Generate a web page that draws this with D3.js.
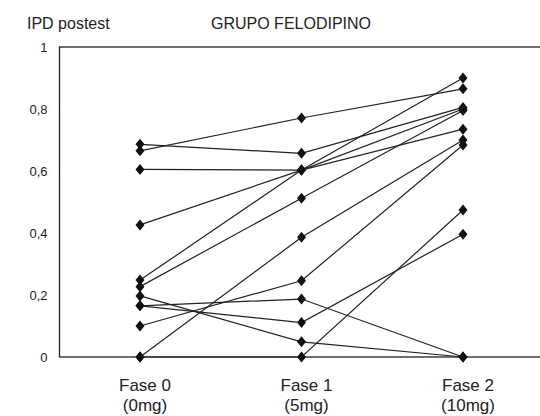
<!DOCTYPE html>
<html>
<head>
<meta charset="utf-8">
<script src="https://cdn.jsdelivr.net/npm/d3@7"></script>
<style>
  html, body { margin: 0; padding: 0; background: #fff; }
  svg { display: block; font-family: Arial, "Liberation Sans", sans-serif; }
</style>
</head>
<body>
<svg id="chart" width="540" height="416"></svg>
<script>
// Phases of the trial and the dose given in each
const phases = ["Fase 0", "Fase 1", "Fase 2"];
const doses = ["(0mg)", "(5mg)", "(10mg)"];

// IPD postest per subject, one array per phase (same subject order)
const fase0 = [0.686, 0.665, 0.605, 0.426, 0.248, 0.227, 0.197, 0.165, 0.165, 0.10, 0, 0];
const fase1 = [0.657, 0.771, 0.603, 0.603, 0.603, 0.512, 0.049, 0.187, 0.111, 0.246, 0.386, 0];
const fase2 = [0.805, 0.865, 0.735, 0.800, 0.900, 0.795, 0, 0, 0.396, 0.684, 0.700, 0.474];

const yTicks = [0, 0.2, 0.4, 0.6, 0.8, 1];

const title = "GRUPO FELODIPINO";
const yTitle = "IPD postest";

const svg = d3.select("#chart");
const plot = { left: 59.5, top: 47, bottom: 357, right: 548 };

const x = d3.scalePoint().domain(phases).range([140, 463]);
const y = d3.scaleLinear().domain([0, 1]).range([plot.bottom, plot.top]);

// Frame (right side runs past the visible edge)
svg.append("rect")
  .attr("x", plot.left).attr("y", plot.top)
  .attr("width", plot.right - plot.left).attr("height", plot.bottom - plot.top)
  .attr("fill", "none").attr("stroke", "#222").attr("stroke-width", 1.3);

// Y axis labels, comma decimals, no tick marks
const yAxis = d3.axisLeft(y).tickValues(yTicks).tickSize(0).tickPadding(12)
  .tickFormat(d => d3.format("")(d).replace(".", ","));
const gy = svg.append("g").attr("transform", `translate(${plot.left},0)`).call(yAxis);
gy.select(".domain").remove();
gy.selectAll("text").attr("font-size", 13).attr("fill", "#222")
  .attr("font-family", "Arial, 'Liberation Sans', sans-serif");

// Category labels under the baseline
const xl = svg.append("g");
phases.forEach((p, i) => {
  const cx = x(p) + 5;
  xl.append("text").attr("x", cx).attr("y", 391).attr("text-anchor", "middle")
    .attr("font-size", 17).attr("fill", "#222").text(p);
  xl.append("text").attr("x", cx).attr("y", 411).attr("text-anchor", "middle")
    .attr("font-size", 17).attr("fill", "#222").text(doses[i]);
});

// Titles
svg.append("text").attr("x", 27).attr("y", 29).attr("font-size", 16).attr("fill", "#222").text(yTitle);
svg.append("text").attr("x", 291).attr("y", 29).attr("text-anchor", "middle")
  .attr("font-size", 16).attr("fill", "#222").text(title);

// One polyline per subject
const subjects = fase0.map((v, i) => [fase0[i], fase1[i], fase2[i]]);
const line = d3.line().x((d, i) => x(phases[i])).y(d => y(d));

svg.append("g").selectAll("path").data(subjects).join("path")
  .attr("d", line)
  .attr("fill", "none").attr("stroke", "#222").attr("stroke-width", 1.2);

// Diamond markers
const diamond = "M0,-5.5L4.5,0L0,5.5L-4.5,0Z";
const pts = [];
subjects.forEach(s => s.forEach((v, i) => pts.push({ p: phases[i], v })));
svg.append("g").selectAll("path").data(pts).join("path")
  .attr("d", diamond)
  .attr("transform", d => `translate(${x(d.p)},${y(d.v)})`)
  .attr("fill", "#111");
</script>
</body>
</html>
